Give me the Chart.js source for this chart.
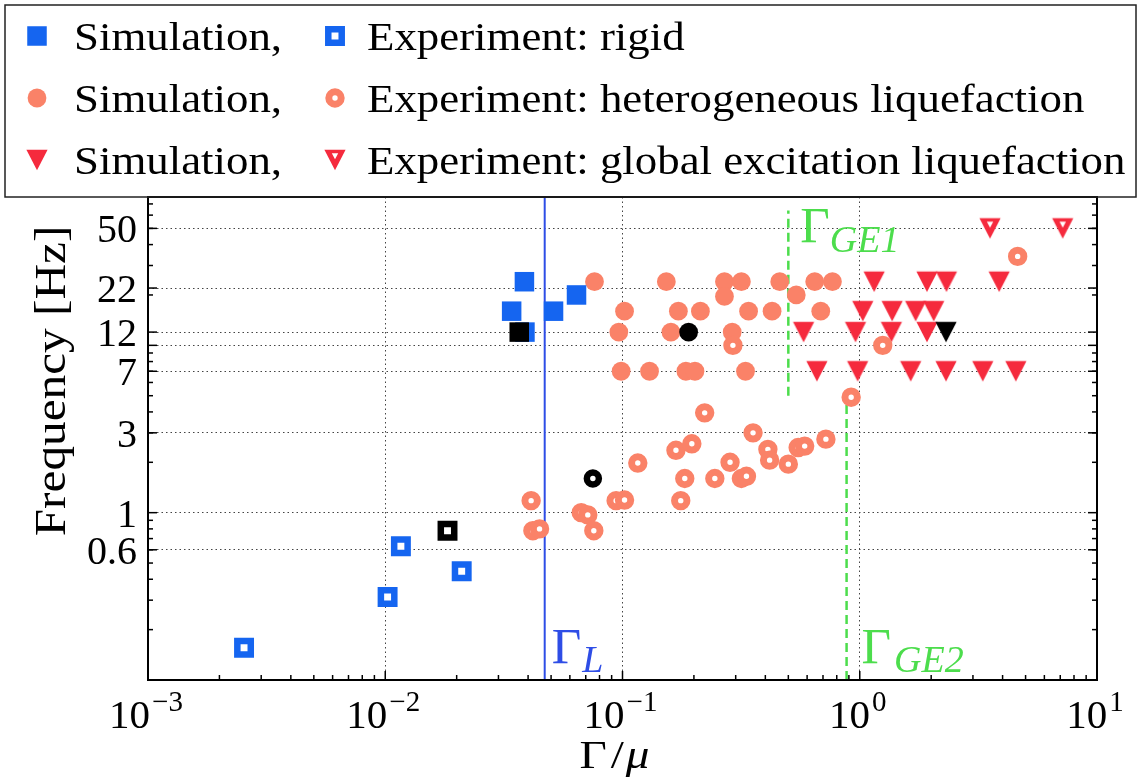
<!DOCTYPE html>
<html>
<head>
<meta charset="utf-8">
<script src="https://cdn.jsdelivr.net/npm/chart.js@4.4.1/dist/chart.umd.min.js"></script>
<style>
  html, body { margin: 0; padding: 0; background: #fff; }
</style>
</head>
<body>
<canvas id="plot" width="1140" height="780"></canvas>
<script>
const FONT = "'Liberation Serif', serif";

// axis ticks
const xDecades = [-3, -2, -1, 0, 1];
const yTickValues = [0.6, 1, 3, 7, 10, 12, 22, 50];
const yTickLabels = ['0.6', '1', '3', '7', '', '12', '22', '50'];

// Simulation, rigid
const simRigidX = [0.0386, 0.0341, 0.0512, 0.064, 0.0388];
const simRigidY = [24, 16, 16, 20, 12];
// Experiment: rigid
const expRigidX = [0.00254, 0.01023, 0.01164, 0.0210];
const expRigidY = [0.156, 0.313, 0.63, 0.447];
// Simulation, heterogeneous liquefaction
const simHetX = [0.0762, 0.153, 0.269, 0.317, 0.46, 0.646, 0.767,
  0.269, 0.54,
  0.102, 0.172, 0.213, 0.340, 0.427, 0.685,
  0.0965, 0.160, 0.290,
  0.0987, 0.130, 0.185, 0.202, 0.330];
const simHetY = [24, 24, 24, 24, 24, 24, 24,
  19.6, 20,
  16, 16, 16, 16, 16, 16,
  12, 12, 12,
  7, 7, 7, 7, 7];
// Experiment: heterogeneous liquefaction
const expHetX = [0.0412, 0.0419, 0.0447, 0.067, 0.0714, 0.0757, 0.094, 0.102, 0.116, 0.168,
  0.176, 0.183, 0.196, 0.222, 0.245, 0.284, 0.292, 0.317, 0.333, 0.355,
  0.41, 0.417, 0.50, 0.55, 0.586, 0.72, 0.92, 1.25, 4.63];
const expHetY = [1.18, 0.78, 0.80, 1.0, 0.97, 0.78, 1.18, 1.19, 1.98, 2.36,
  1.18, 1.6, 2.58, 3.95, 1.6, 2.0, 10, 1.6, 1.65, 3.0,
  2.39, 2.06, 1.95, 2.45, 2.5, 2.75, 4.9, 10, 34];
// Simulation, global excitation liquefaction
const simGEX = [1.15, 1.92, 2.32, 3.87, 1.03, 1.37, 1.72, 2.05, 0.58, 0.96, 1.36, 1.92,
  0.66, 0.98, 1.64, 2.31, 3.3, 4.55];
const simGEY = [24, 24, 24, 24, 16, 16, 16, 16, 12, 12, 12, 12, 7, 7, 7, 7, 7, 7];
// Experiment: global excitation liquefaction
const expGEX = [3.54, 7.17];
const expGEY = [50, 50];
// highlighted cases (black)
const markedSimX = [0.0367, 0.190, 2.31];
const markedSimY = [12, 12, 12];
const markedExpX = [0.0183, 0.075];
const markedExpY = [0.78, 1.6];

// thresholds
const gammaL = 0.047;
const gammaGE1 = 0.5;
const gammaGE2 = 0.88;
const lineLY = [0.1, 77];
const lineGE1Y = [5, 64];
const lineGE2Y = [0.1, 4.5];

const BLUE = '#1565f0';
const SALMON = '#fa8268';
const RED = '#f52a3d';
const LINE_BLUE = '#2e4de6';
const GREEN = '#4cdd4c';
const GRID = '#444';

const pts = (xs, ys) => xs.map((x, i) => ({ x: x, y: ys[i] }));

function makeTriangle(color, hollow) {
  const c = document.createElement('canvas');
  c.width = 24;
  c.height = 24;
  const g = c.getContext('2d');
  const hw = 10.6, hh = 10.2, cx = 12, cy = 12;
  const tri = (ox, oy, k) => {
    g.beginPath();
    g.moveTo(ox - hw * k, oy - hh * k);
    g.lineTo(ox + hw * k, oy - hh * k);
    g.lineTo(ox, oy + hh * k);
    g.closePath();
    g.fill();
  };
  g.fillStyle = color;
  tri(cx, cy, 1);
  if (hollow) {
    const L = Math.sqrt(hw * hw + 4 * hh * hh);
    const iy = cy + hh * (hw - L) / (L + hw);
    g.fillStyle = '#fff';
    tri(cx, iy, 0.3);
  }
  return c;
}

const triRed = makeTriangle(RED, false);
const triRedHollow = makeTriangle(RED, true);
const triBlack = makeTriangle('#000', false);

const datasets = [
  { label: 'Simulation,', data: pts(simRigidX, simRigidY), pointStyle: 'rect', pointRadius: 13.8,
    backgroundColor: BLUE, borderWidth: 0, order: 2 },
  { label: 'Experiment: rigid', data: pts(expRigidX, expRigidY), pointStyle: 'rect', pointRadius: 9.5,
    backgroundColor: '#fff', borderColor: BLUE, borderWidth: 6.5, order: 1 },
  { label: 'Simulation,', data: pts(simHetX, simHetY), pointStyle: 'circle', pointRadius: 9.4,
    backgroundColor: SALMON, borderWidth: 0, order: 2 },
  { label: 'Experiment: heterogeneous liquefaction', data: pts(expHetX, expHetY), pointStyle: 'circle',
    pointRadius: 6.2, backgroundColor: '#fff', borderColor: SALMON, borderWidth: 7, order: 1 },
  { label: 'Simulation,', data: pts(simGEX, simGEY), pointStyle: triRed, pointRadius: 10,
    backgroundColor: RED, borderWidth: 0, order: 2 },
  { label: 'Experiment: global excitation liquefaction', data: pts(expGEX, expGEY), pointStyle: triRedHollow,
    pointRadius: 10, backgroundColor: RED, borderWidth: 0, order: 1 },
  { label: 'marked sim', data: pts(markedSimX, markedSimY), pointStyle: ['rect', 'circle', triBlack],
    pointRadius: [13.8, 9.4, 10], backgroundColor: '#000', borderWidth: 0, order: 0 },
  { label: 'marked exp', data: pts(markedExpX, markedExpY), pointStyle: ['rect', 'circle'],
    pointRadius: [9.5, 6], backgroundColor: '#fff', borderColor: '#000', borderWidth: [6.5, 6.5], order: 0 },
  { type: 'line', label: 'gammaL', data: pts([gammaL, gammaL], lineLY), showLine: true, pointRadius: 0,
    borderColor: LINE_BLUE, borderWidth: 2, order: 3 },
  { type: 'line', label: 'gammaGE1', data: pts([gammaGE1, gammaGE1], lineGE1Y), showLine: true, pointRadius: 0,
    borderColor: GREEN, borderWidth: 2.5, borderDash: [9, 5], order: 3 },
  { type: 'line', label: 'gammaGE2', data: pts([gammaGE2, gammaGE2], lineGE2Y), showLine: true, pointRadius: 0,
    borderColor: GREEN, borderWidth: 2.5, borderDash: [9, 5], order: 3 },
];

// legend layout: [dataset index, column, row]
const legendItems = [[0, 0, 0], [1, 1, 0], [2, 0, 1], [3, 1, 1], [4, 0, 2], [5, 1, 2]];

function drawText(ctx, s, x, y, size, o = {}) {
  ctx.save();
  ctx.font = (o.italic ? 'italic ' : '') + size + 'px ' + FONT;
  ctx.fillStyle = o.color || '#000';
  ctx.textAlign = 'left';
  ctx.textBaseline = 'alphabetic';
  const sx = o.sx || 1;
  const w = ctx.measureText(s).width * sx;
  let x0 = x;
  if (o.align === 'center') x0 -= w / 2;
  if (o.align === 'right') x0 -= w;
  ctx.translate(x0, y);
  ctx.scale(sx, 1);
  ctx.fillText(s, 0, 0);
  ctx.restore();
  return w;
}

function drawMarker(ctx, ds, x, y) {
  ctx.save();
  ctx.fillStyle = ds.backgroundColor;
  ctx.strokeStyle = ds.borderColor || ds.backgroundColor;
  ctx.lineWidth = ds.borderWidth;
  Chart.helpers.drawPoint(ctx, {
    pointStyle: ds.pointStyle, rotation: 0, radius: ds.pointRadius, borderWidth: ds.borderWidth,
  }, x, y);
  ctx.restore();
}

const framePlugin = {
  id: 'frame',
  afterDraw(chart) {
    const { ctx, chartArea: a } = chart;
    const xs = chart.scales.x, ys = chart.scales.y;
    ctx.save();
    ctx.strokeStyle = '#000';
    ctx.lineWidth = 1.5;
    const tick = (x1, y1, x2, y2) => {
      ctx.beginPath(); ctx.moveTo(x1, y1); ctx.lineTo(x2, y2); ctx.stroke();
    };
    // inward ticks
    for (let k = -3; k < 1; k++) {
      for (let m = 1; m <= 9; m++) {
        const px = xs.getPixelForValue(m * Math.pow(10, k));
        tick(px, a.bottom, px, a.bottom - (m === 1 ? 9 : 5));
      }
    }
    for (let k = -1; k < 2; k++) {
      for (let m = 2; m <= 9; m++) {
        const v = m * Math.pow(10, k);
        if (v > ys.max) continue;
        const py = ys.getPixelForValue(v);
        tick(a.left, py, a.left + 5, py);
        tick(a.right, py, a.right - 5, py);
      }
    }
    yTickValues.forEach((v) => {
      const py = ys.getPixelForValue(v);
      tick(a.left, py, a.left + 9, py);
      tick(a.right, py, a.right - 9, py);
    });
    ctx.lineWidth = 2;
    ctx.strokeRect(a.left, a.top, a.right - a.left, a.bottom - a.top);

    // y tick labels
    yTickValues.forEach((v, i) => {
      if (!yTickLabels[i]) return;
      drawText(ctx, yTickLabels[i], a.left - 11, ys.getPixelForValue(v) + 14, 40, { align: 'right' });
    });
    // x tick labels 10^k
    xDecades.forEach((k) => {
      const px = xs.getPixelForValue(Math.pow(10, k));
      const ex = (k < 0 ? '\u2212' : '') + Math.abs(k);
      ctx.font = '41px ' + FONT;
      const wb = ctx.measureText('10').width;
      ctx.font = '29px ' + FONT;
      const we = ctx.measureText(ex).width;
      const x0 = px - (wb + we + 2) / 2 - 2;
      drawText(ctx, '10', x0, 728, 41);
      drawText(ctx, ex, x0 + wb + 2, 711, 29);
    });
    // axis titles
    const cx = (a.left + a.right) / 2;
    let tx = cx - 43;
    tx += drawText(ctx, '\u0393', tx, 768, 41, { sx: 1.15 });
    tx += drawText(ctx, '/', tx + 4, 768, 41, { sx: 1.15 }) + 6;
    drawText(ctx, '\u03bc', tx, 768, 41, { italic: true, sx: 1.15 });

    ctx.save();
    ctx.translate(65, 381);
    ctx.rotate(-Math.PI / 2);
    ctx.font = '44px ' + FONT;
    ctx.fillStyle = '#000';
    ctx.textAlign = 'center';
    ctx.scale(1.12, 1);
    ctx.fillText('Frequency [Hz]', 0, 0);
    ctx.restore();

    // threshold labels
    const gx = (v) => xs.getPixelForValue(v);
    let w = drawText(ctx, '\u0393', gx(gammaL) + 7, 663, 51, { color: LINE_BLUE });
    drawText(ctx, 'L', gx(gammaL) + 7 + w + 1, 672, 38, { italic: true, color: LINE_BLUE });
    w = drawText(ctx, '\u0393', gx(gammaGE1) + 12, 242, 51, { color: GREEN });
    drawText(ctx, 'GE1', gx(gammaGE1) + 12 + w, 252, 38, { italic: true, color: GREEN });
    w = drawText(ctx, '\u0393', gx(gammaGE2) + 15, 663, 51, { color: GREEN });
    drawText(ctx, 'GE2', gx(gammaGE2) + 15 + w + 3, 672, 38, { italic: true, color: GREEN });

    // legend
    ctx.lineWidth = 1.5;
    ctx.strokeStyle = '#222';
    ctx.strokeRect(5, 5, 1131, 192);
    const colMarker = [37, 335], colText = [74, 367], rowY = [36, 98, 160];
    legendItems.forEach(([di, col, row]) => {
      const ds = chart.data.datasets[di];
      drawMarker(ctx, ds, colMarker[col], rowY[row]);
      drawText(ctx, ds.label, colText[col], rowY[row] + 14, 39, { sx: 1.15 });
    });
    ctx.restore();
  },
};

new Chart(document.getElementById('plot'), {
  type: 'scatter',
  data: { datasets: datasets },
  options: {
    responsive: false,
    animation: false,
    events: [],
    layout: { padding: { top: 197, right: 43, left: 0, bottom: 0 } },
    plugins: { legend: { display: false }, tooltip: { enabled: false } },
    scales: {
      x: {
        type: 'logarithmic',
        min: 1e-3,
        max: 10,
        afterBuildTicks: (s) => { s.ticks = xDecades.map((k) => ({ value: Math.pow(10, k) })); },
        afterFit: (s) => { s.height = 100; },
        ticks: { display: false },
        grid: { color: GRID, lineWidth: 1, drawTicks: false },
        border: { display: false, dash: [1.5, 3] },
      },
      y: {
        type: 'logarithmic',
        min: 0.1,
        max: 77,
        afterBuildTicks: (s) => { s.ticks = yTickValues.map((v) => ({ value: v })); },
        afterFit: (s) => { s.width = 148; },
        ticks: { display: false },
        grid: { color: GRID, lineWidth: 1, drawTicks: false },
        border: { display: false, dash: [1.5, 3] },
      },
    },
  },
  plugins: [framePlugin],
});
</script>
</body>
</html>
